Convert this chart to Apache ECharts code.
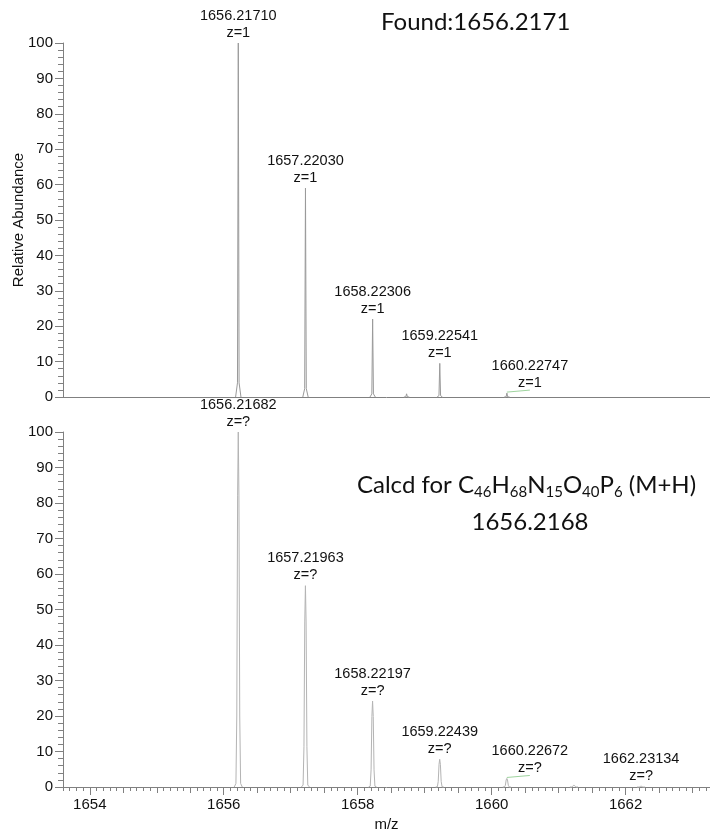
<!DOCTYPE html>
<html>
<head>
<meta charset="utf-8">
<script src="https://cdn.jsdelivr.net/npm/echarts@6/dist/echarts.min.js"></script>
<style>
  html, body {margin: 0; padding: 0; background: #fff;}
  #chart {width: 710px; height: 836px;}
</style>
</head>
<body>
<div id="chart"></div>
<script>
// measured spectrum (top) - centroid m/z and relative abundance
const foundMz = [1656.2171, 1657.2203, 1658.22306, 1658.73, 1659.22541, 1660.22747]
const foundAbundance = [100, 59, 22, 0.9, 9.5, 1.1]
const foundLabels = ['1656.21710', '1657.22030', '1658.22306', '', '1659.22541', '1660.22747']
const foundCharge = 'z=1'

// calculated isotope pattern (bottom)
const calcMz = [1656.21682, 1657.21963, 1658.22197, 1659.22439, 1660.22672, 1661.229, 1662.23134]
const calcAbundance = [100, 56.7, 24.2, 7.8, 2.4, 0.5, 0.2]
const calcLabels = ['1656.21682', '1657.21963', '1658.22197', '1659.22439', '1660.22672', '', '1662.23134']
const calcCharge = 'z=?'

// axis ticks
const xMin = 1653.6
const xMax = 1663.26
const xLabelTicks = [1654, 1656, 1658, 1660, 1662]
const xHalfTicks = [1654, 1654.5, 1655, 1655.5, 1656, 1656.5, 1657, 1657.5, 1658, 1658.5,
  1659, 1659.5, 1660, 1660.5, 1661, 1661.5, 1662, 1662.5, 1663]

const axisGray = '#808080'
const textFont = '"Liberation Sans", Arial, sans-serif'
const noteFont = 'Lato, "Open Sans", sans-serif'

// peak outline, [m/z offset, fraction of height]
const thinPeak = [[-0.04, 0], [-0.012, 0.04], [0, 1], [0.012, 0.04], [0.04, 0]]
const widePeak = [[-0.06, 0], [-0.035, 0.01], [-0.022, 0.2], [-0.01, 0.82], [0, 1],
  [0.01, 0.82], [0.022, 0.2], [0.035, 0.01], [0.06, 0]]

function peakSeries(mz, abund, grid, outline, color) {
  return {
    type: 'custom',
    xAxisIndex: grid === 0 ? 0 : 1,
    yAxisIndex: grid,
    data: mz.map((m, i) => [m, abund[i]]),
    encode: {x: 0, y: 1},
    silent: true,
    renderItem(params, api) {
      const m = api.value(0)
      const h = api.value(1)
      const pts = outline.map(p => api.coord([m + p[0], h * p[1]]))
      return {
        type: 'polyline',
        shape: {points: pts},
        style: {stroke: color, fill: null, lineWidth: 1}
      }
    }
  }
}

// peak annotations: m/z and charge above each labelled peak
function labelSeries(mz, abund, labels, charge, grid) {
  const data = []
  mz.forEach((m, i) => {
    if (labels[i] !== '') data.push([m, abund[i], i])
  })
  return {
    type: 'custom',
    xAxisIndex: grid === 0 ? 0 : 1,
    yAxisIndex: grid,
    data: data,
    encode: {x: 0, y: 1},
    silent: true,
    z: 5,
    renderItem(params, api) {
      const pt = api.coord([api.value(0), api.value(1)])
      const text = labels[api.value(2)]
      // the small 1660 peaks have their label pushed aside with a guide line
      const shifted = text.startsWith('1660')
      const dx = shifted ? 23 : 0
      const children = [{
        type: 'text',
        x: pt[0] + dx,
        y: pt[1] - 2,
        style: {
          text: text + '\n' + charge,
          align: 'center',
          verticalAlign: 'bottom',
          fontSize: 14.5,
          lineHeight: 17,
          fill: '#111',
          fontFamily: textFont
        }
      }]
      if (shifted) {
        children.push({
          type: 'line',
          shape: {x1: pt[0], y1: pt[1] - 1, x2: pt[0] + dx, y2: pt[1] - 3},
          style: {stroke: '#9fd49f', lineWidth: 1}
        })
      }
      return {type: 'group', children: children}
    }
  }
}

function yAxis(grid, name) {
  return {
    type: 'value',
    gridIndex: grid,
    min: 0,
    max: 100,
    interval: 10,
    name: name,
    nameLocation: 'middle',
    nameGap: 37,
    nameMoveOverlap: false,
    nameTextStyle: {fontSize: 15, color: '#111', fontFamily: textFont},
    axisLine: {show: true, lineStyle: {color: axisGray}},
    axisTick: {show: true, length: 8, lineStyle: {color: axisGray}},
    minorTick: {show: true, splitNumber: 5, length: 5, lineStyle: {color: axisGray}},
    splitLine: {show: false},
    axisLabel: {fontSize: 15, color: '#111', margin: 10, fontFamily: textFont}
  }
}

const chart = echarts.init(document.getElementById('chart'))

const option = {
  animation: false,
  backgroundColor: '#fff',
  grid: [
    {left: 63, top: 43, right: 0, height: 354},
    {left: 63, top: 432, right: 0, height: 355}
  ],
  xAxis: [
    {
      type: 'value', gridIndex: 0, min: xMin, max: xMax, position: 'bottom',
      axisLine: {show: true, onZero: false, lineStyle: {color: axisGray}},
      axisTick: {show: false}, axisLabel: {show: false}, splitLine: {show: false}
    },
    {
      type: 'value', gridIndex: 1, min: xMin, max: xMax, position: 'bottom',
      name: 'm/z', nameLocation: 'middle', nameGap: 30, nameMoveOverlap: false,
      nameTextStyle: {fontSize: 15, color: '#111', fontFamily: textFont},
      axisLine: {show: true, onZero: false, lineStyle: {color: axisGray}},
      axisTick: {show: true, length: 8, customValues: xLabelTicks, lineStyle: {color: axisGray}},
      axisLabel: {show: true, customValues: xLabelTicks, fontSize: 15, color: '#111',
        margin: 10, fontFamily: textFont, formatter: v => String(v)},
      splitLine: {show: false}
    },
    {
      type: 'value', gridIndex: 1, min: xMin, max: xMax, position: 'bottom', offset: 0,
      axisLine: {show: false, onZero: false},
      axisTick: {show: true, length: 6, customValues: xHalfTicks, lineStyle: {color: axisGray}},
      axisLabel: {show: false}, splitLine: {show: false}
    },
    {
      type: 'value', gridIndex: 1, min: xMin, max: xMax, position: 'bottom', offset: 0,
      interval: 0.1,
      axisLine: {show: false, onZero: false},
      axisTick: {show: true, length: 4, lineStyle: {color: axisGray}},
      axisLabel: {show: false}, splitLine: {show: false}
    }
  ],
  yAxis: [yAxis(0, 'Relative Abundance'), yAxis(1, '')],
  series: [
    peakSeries(foundMz, foundAbundance, 0, thinPeak, '#9a9a9a'),
    peakSeries(calcMz, calcAbundance, 1, widePeak, '#b4b4b4'),
    labelSeries(foundMz, foundAbundance, foundLabels, foundCharge, 0),
    labelSeries(calcMz, calcAbundance, calcLabels, calcCharge, 1)
  ],
  graphic: [
    {
      type: 'text', x: 381, y: 10,
      style: {text: 'Found:1656.2171', fontSize: 24, fill: '#111', fontFamily: noteFont}
    },
    {
      type: 'text', x: 357, y: 470,
      style: {
        text: 'Calcd for C{s|46}H{s|68}N{s|15}O{s|40}P{s|6} (M+H)',
        fontSize: 24, lineHeight: 30, fill: '#111', fontFamily: noteFont,
        rich: {
          s: {fontSize: 15, lineHeight: 15, verticalAlign: 'bottom', fill: '#111', fontFamily: noteFont}
        }
      }
    },
    {
      type: 'text', x: 530, y: 510,
      style: {text: '1656.2168', fontSize: 24, fill: '#111', fontFamily: noteFont, align: 'center'}
    }
  ]
}

chart.setOption(option)
</script>
</body>
</html>
